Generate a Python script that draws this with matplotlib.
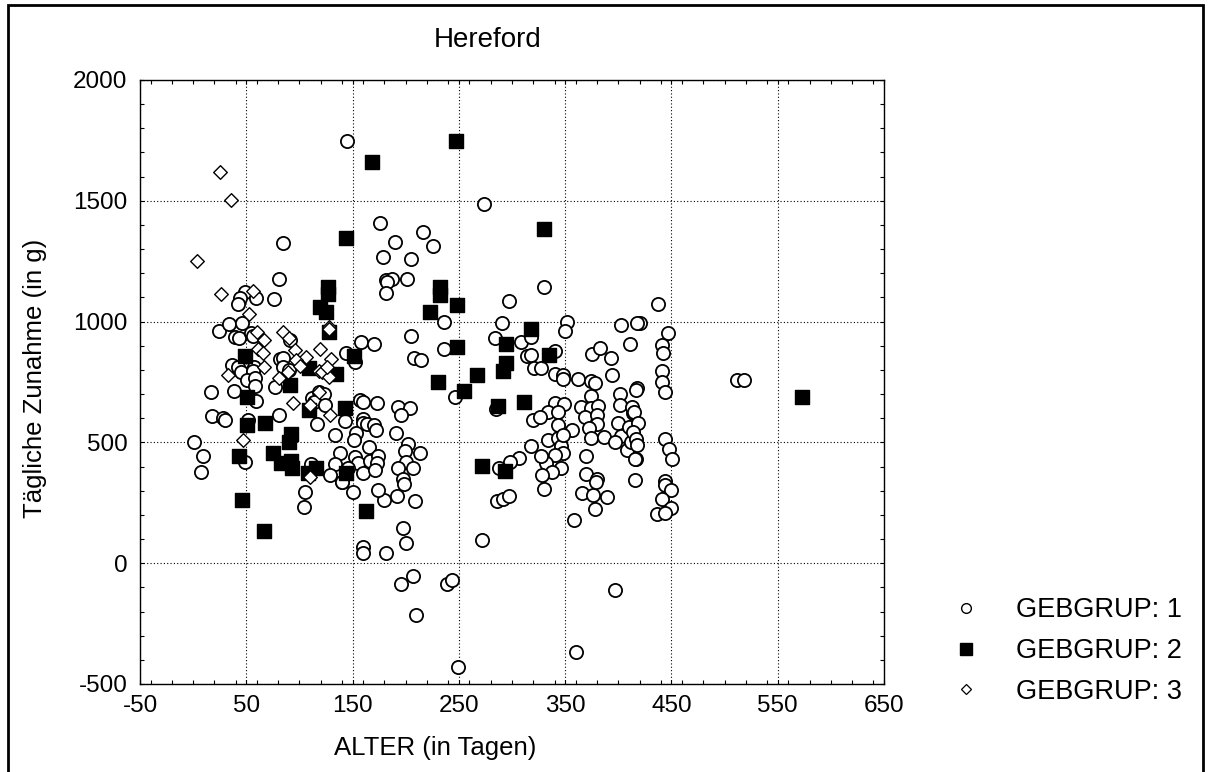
import matplotlib
matplotlib.use("Agg")
import matplotlib.pyplot as plt
from matplotlib.lines import Line2D
from matplotlib.patches import Rectangle
from matplotlib.ticker import MultipleLocator

plt.rcParams['font.family'] = ['Liberation Sans', 'DejaVu Sans']

title = "Hereford"
x_label = "ALTER (in Tagen)"
y_label = "Tägliche Zunahme (in g)"
group_labels = ["GEBGRUP: 1", "GEBGRUP: 2", "GEBGRUP: 3"]
x_ticks = [-50, 50, 150, 250, 350, 450, 550, 650]
y_ticks = [-500, 0, 500, 1000, 1500, 2000]

# GEBGRUP 1 (open circles)
g1_x = [145, 176, 85, 179, 81, 181, 187, 201, 182, 181, 274, 216, 190, 226, 205, 330,
        49, 44, 42, 59, 76, 24, 34, 46, 39, 43, 54, 56, 91, 144, 158, 170, 152,
        37, 42, 45, 57, 56, 82, 85, 85, 90, 51, 58, 58, 77, 17, 38, 59, 112, 118,
        123, 114, 124, 157, 160, 173, 18, 28, 30, 52, 81, 117, 143, 160, 160, 164,
        170, 172, 153, 133, 1, 151, 165, 9, 49, 138, 152, 155, 166, 174, 173, 7,
        111, 133, 146, 129, 160, 171, 140,
        297, 236, 291, 352, 350, 403, 420, 205, 284, 308, 318, 411, 236, 208, 214,
        314, 318, 340, 375, 383, 393, 321, 327, 340, 348, 348, 362, 374, 378, 394,
        246, 374, 402, 193, 204, 196, 285, 340, 349, 334, 343, 320, 326, 343, 356,
        365, 374, 381, 369, 380, 380, 372, 374, 387, 402, 400, 403, 410, 408, 397,
        412, 414, 191, 202, 199, 213, 200, 193, 207, 197, 318, 334, 343, 346, 348,
        348, 340, 332, 327, 346, 338, 328, 370, 370, 380, 307, 298, 288, 417,
        437, 418, 447, 441, 442, 441, 441, 444, 418, 417, 512, 518, 413, 415, 419,
        414, 417, 418, 416, 444, 448, 451, 416, 444, 444, 450, 441, 450, 436, 444,
        198, 192, 209, 180, 197, 200, 181, 207, 196, 239, 244, 210, 249, 286, 292,
        297, 330, 272, 358, 366, 376, 378, 389, 379, 397, 360,
        105, 104, 140, 150, 174, 160, 160]
g1_y = [1749, 1407, 1324, 1269, 1175, 1172, 1175, 1175, 1165, 1117, 1487, 1372, 1331, 1314, 1258, 1143,
        1124, 1097, 1073, 1097, 1093, 962, 990, 993, 938, 931, 952, 940, 924, 871, 917, 907, 834,
        820, 812, 792, 814, 797, 844, 851, 814, 800, 758, 765, 734, 731, 707, 713, 673, 683, 709,
        700, 669, 655, 676, 669, 665, 609, 602, 592, 593, 614, 576, 589, 596, 580, 576,
        573, 553, 540, 531, 500, 510, 482, 445, 420, 457, 441, 414, 424, 444, 416, 379,
        410, 410, 393, 365, 372, 386, 335,
        1086, 1000, 993, 1000, 962, 986, 993, 941, 933, 914, 935, 907, 887, 848, 843,
        857, 862, 880, 865, 890, 851, 809, 806, 782, 780, 762, 761, 754, 744, 779,
        687, 692, 700, 648, 644, 613, 640, 665, 658, 627, 627, 593, 607, 572, 551,
        648, 641, 651, 607, 613, 576, 558, 517, 524, 655, 582, 527, 562, 469, 500,
        500, 620, 537, 492, 465, 457, 420, 393, 393, 350, 486, 510, 517, 486, 531,
        457, 449, 416, 443, 393, 376, 366, 444, 369, 347, 435, 417, 393, 430,
        1072, 995, 952, 903, 869, 797, 752, 709, 727, 715, 758, 758, 648, 627, 582,
        541, 514, 489, 432, 514, 472, 431, 346, 340, 324, 301, 266, 230, 202, 206,
        328, 278, 259, 262, 144, 85, 41, -53, -86, -86, -69, -215, -428, 259, 265,
        278, 306, 94, 179, 289, 283, 223, 273, 336, -112, -366,
        296, 234, 335, 296, 303, 68, 44]

# GEBGRUP 2 (filled squares)
g2_x = [168, 143.5, 247, 330, 127, 127, 119, 125, 128, 49, 151, 109, 134, 91, 51, 143,
        109, 68, 51, 92, 90, 43, 75, 83, 92, 93, 108, 116, 144, 46, 67, 163,
        232, 232, 248, 223, 318, 248, 294, 335, 294, 292, 267, 230, 255, 311, 287,
        272, 293, 573]
g2_y = [1659, 1345, 1748, 1383, 1145, 1113, 1062, 1041, 958, 859, 859, 809, 782, 738, 689, 642,
        634, 582, 572, 535, 503, 444, 455, 416, 423, 393, 372, 393, 372, 262, 134, 217,
        1145, 1110, 1069, 1039, 968, 896, 906, 862, 828, 797, 779, 751, 713, 667, 651,
        402, 382, 687]

# GEBGRUP 3 (open diamonds)
g3_x = [4, 25, 36, 26, 56, 53, 60, 67, 85, 90, 61, 66, 96, 106, 119, 130, 128, 128,
        67, 33, 97, 101, 81, 89, 118, 121, 128, 126, 94, 110, 129, 118, 47, 110]
g3_y = [1250, 1619, 1503, 1114, 1128, 1030, 958, 924, 956, 931, 885, 871, 882, 855, 887, 844, 979, 969,
        811, 779, 841, 816, 768, 793, 797, 790, 769, 812, 662, 655, 613, 710, 510, 358]

W, H = 1208, 772
fig = plt.figure(figsize=(W / 100, H / 100), dpi=100)
ax = fig.add_axes([140 / W, 1 - 684 / H, (884 - 140) / W, (684 - 80) / H])

ax.scatter(g1_x, g1_y, s=90, marker='o', facecolors='white', edgecolors='black',
           linewidths=1.3, zorder=3)
ax.scatter(g2_x, g2_y, s=100, marker='s', facecolors='black', edgecolors='black',
           linewidths=1.0, zorder=3)
ax.scatter(g3_x, g3_y, s=48, marker='D', facecolors='white', edgecolors='black',
           linewidths=1.0, zorder=3)

ax.set_xlim(-50, 650)
ax.set_ylim(-500, 2000)
ax.set_xticks(x_ticks)
ax.set_yticks(y_ticks)
ax.set_xticklabels([str(v) for v in x_ticks])
ax.set_yticklabels([str(v) for v in y_ticks])
ax.xaxis.set_minor_locator(MultipleLocator(20))
ax.yaxis.set_minor_locator(MultipleLocator(100))
ax.tick_params(which='both', direction='in', top=True, right=True, length=3, width=0.8)
ax.tick_params(axis='x', which='major', labelsize=17.5, pad=8)
ax.tick_params(axis='y', which='major', labelsize=17.5, pad=9)
ax.grid(True, which='major', linestyle=(0, (1, 2)), color='black', linewidth=0.8)
ax.set_axisbelow(True)
for sp in ax.spines.values():
    sp.set_linewidth(1.0)

ax.set_xlabel(x_label, fontsize=18.5)
ax.set_ylabel(y_label, fontsize=18.5)
ax.xaxis.set_label_coords((435 - 140) / 744, -(736 - 684) / 604)
ax.yaxis.set_label_coords((47 - 140) / 744, (684 - 378) / 604)

fig.text(488 / W, 1 - 40 / H, title, fontsize=20, ha='center', va='center')

handles = [
    Line2D([], [], linestyle='none', marker='o', markersize=7, markerfacecolor='white',
           markeredgecolor='black', markeredgewidth=1.0),
    Line2D([], [], linestyle='none', marker='s', markersize=8, markerfacecolor='black',
           markeredgecolor='black'),
    Line2D([], [], linestyle='none', marker='D', markersize=5.5, markerfacecolor='white',
           markeredgecolor='black', markeredgewidth=0.9),
]
fig.legend(handles, group_labels, loc='center left', bbox_to_anchor=(932 / W, 1 - 651 / H),
           frameon=False, fontsize=19.5, handlelength=1.5, handletextpad=1.1,
           labelspacing=0.55, borderpad=0)

fig.patches.append(Rectangle((8 / W, -0.01), (1203 - 8) / W, 1.01 - 5 / H,
                             transform=fig.transFigure, fill=False, edgecolor='black',
                             linewidth=2.0))

fig.savefig("out.png", dpi=100)
